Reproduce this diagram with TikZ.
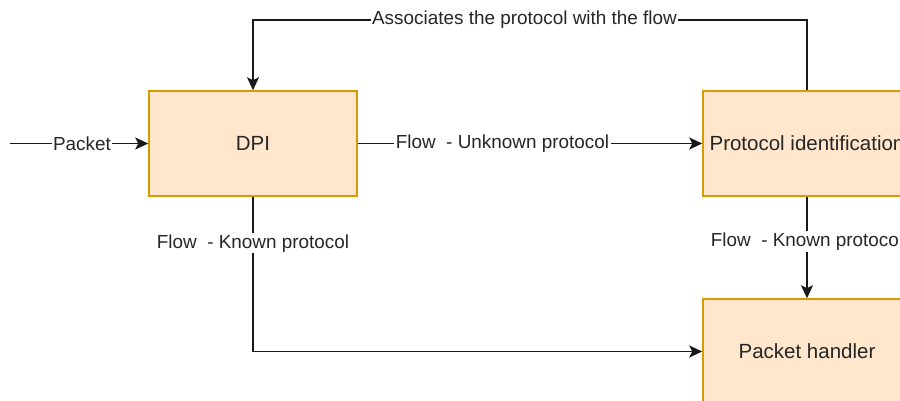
\documentclass[tikz,border=0pt]{standalone}
\usepackage{fontspec}
\setmainfont{Liberation Sans}
\usetikzlibrary{arrows.meta}
\definecolor{boxfill}{HTML}{FFE6CC}
\definecolor{boxdraw}{HTML}{D79B00}
\tikzset{
  box/.style={draw=boxdraw, fill=boxfill, line width=1.5pt, minimum width=208pt, minimum height=105pt, inner sep=0pt, font=\fontsize{20.5}{24}\selectfont, text=black!85},
  conn/.style={line width=1.6pt, draw=black!90},
  arr/.style={conn, -{Stealth[length=13pt, width=12pt, inset=3pt]}},
  lbl/.style={fill=white, inner sep=1.5pt, font=\fontsize{18.9}{22}\selectfont, text=black!85}
}
\begin{document}
\begin{tikzpicture}[x=1pt, y=-1pt]
\useasboundingbox (0,0) rectangle (900,401);
\clip (0,0) rectangle (900,401);
\fill[white] (0,0) rectangle (900,401);
\node[box] (dpi) at (253,143.5) {DPI};
\node[box] (pid) at (807,143.5) {Protocol identification};
\node[box] (ph) at (807,351.5) {Packet handler};
\coordinate (in) at (10,143.5);
\coordinate (t1) at (807,20);
\coordinate (t2) at (253,20);
\coordinate (b1) at (253,351.5);
\draw[arr] (in) -- node[lbl, pos=0.52] {Packet} (dpi.west);
\draw[arr] (dpi.east) -- node[lbl, pos=0.42] {Flow\ \ - Unknown protocol} (pid.west);
\draw[arr] (pid.north) -- (t1) -- node[lbl, pos=0.51] {Associates the protocol with the flow} (t2) -- (dpi.north);
\draw[arr] (dpi.south) -- node[lbl, pos=0.3] {Flow\ \ - Known protocol} (b1) -- (ph.west);
\draw[arr] (pid.south) -- node[lbl, pos=0.44] {Flow\ \ - Known protocol} (ph.north);
\end{tikzpicture}
\end{document}
